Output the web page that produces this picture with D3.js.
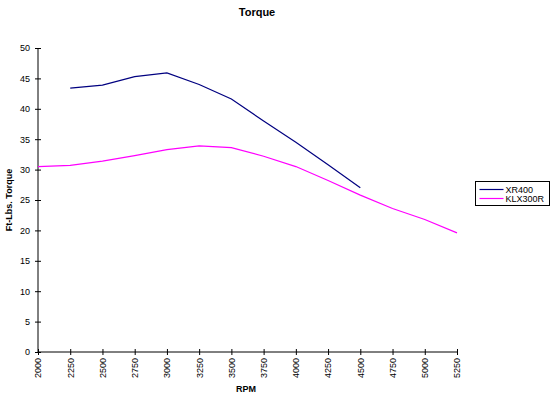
<!DOCTYPE html>
<html>
<head>
<meta charset="utf-8">
<script src="https://cdn.jsdelivr.net/npm/d3@7"></script>
<style>
  body { margin: 0; background: #fff; }
  text { font-family: Arial, "Liberation Sans", sans-serif; }
</style>
</head>
<body>
<div id="chart"></div>
<script>
// RPM categories and torque readings
const rpm = [2000, 2250, 2500, 2750, 3000, 3250, 3500, 3750, 4000, 4250, 4500, 4750, 5000, 5250];
const xr400 = [null, 43.4, 43.9, 45.3, 45.9, 44.0, 41.6, 38.0, 34.5, 30.8, 27.0, null, null, null];
const klx300r = [30.5, 30.7, 31.4, 32.3, 33.3, 33.9, 33.6, 32.2, 30.5, 28.2, 25.8, 23.6, 21.8, 19.6];
const yTicks = [0, 5, 10, 15, 20, 25, 30, 35, 40, 45, 50];

const series = [
  {name: "XR400", values: xr400, color: "#000080"},
  {name: "KLX300R", values: klx300r, color: "#ff00ff"}
];

const W = 551, H = 398;
const svg = d3.select("#chart").append("svg")
  .attr("width", W)
  .attr("height", H);

const x = d3.scaleLinear().domain([2000, 5250]).range([38, 457]);
const y = d3.scaleLinear().domain([0, 50]).range([352, 48]);

// title
svg.append("text")
  .attr("x", 257).attr("y", 16)
  .attr("text-anchor", "middle")
  .style("font-size", "11px").style("font-weight", "bold")
  .text("Torque");

// axes with crossing tick marks
const yAxis = svg.append("g")
  .attr("transform", `translate(${x.range()[0]},0)`)
  .call(d3.axisLeft(y).tickValues(yTicks).tickSize(3).tickPadding(5));
yAxis.selectAll(".tick line").attr("x2", 3).attr("x1", -3);

const xAxis = svg.append("g")
  .attr("transform", `translate(0,${y.range()[0]})`)
  .call(d3.axisBottom(x).tickValues(rpm).tickSize(3).tickFormat(d3.format("d")));
xAxis.selectAll(".tick line").attr("y1", -3).attr("y2", 3);
xAxis.selectAll(".tick text")
  .attr("transform", "rotate(-90)")
  .attr("text-anchor", "end")
  .attr("x", -6).attr("y", 0).attr("dy", "0.32em");

[yAxis, xAxis].forEach(g => {
  g.select(".domain").attr("stroke", "#000").attr("d", null);
  g.selectAll("text").style("font-size", "9px").attr("fill", "#000");
  g.selectAll(".tick line").attr("stroke", "#000");
});
yAxis.select(".domain").attr("d", `M0,${y.range()[0]}V${y.range()[1]}`).attr("transform", null);
xAxis.select(".domain").attr("d", `M${x.range()[0]},0H${x.range()[1]}`);

// axis titles
svg.append("text")
  .attr("x", 246).attr("y", 392)
  .attr("text-anchor", "middle")
  .style("font-size", "9px").style("font-weight", "bold")
  .text("RPM");

svg.append("text")
  .attr("transform", "translate(12,200) rotate(-90)")
  .attr("text-anchor", "middle")
  .style("font-size", "9px").style("font-weight", "bold")
  .text("Ft-Lbs. Torque");

// lines
const line = d3.line()
  .defined(d => d.v != null)
  .x(d => x(d.r))
  .y(d => y(d.v));

series.forEach(s => {
  svg.append("path")
    .datum(rpm.map((r, i) => ({r: r, v: s.values[i]})))
    .attr("fill", "none")
    .attr("stroke", s.color)
    .attr("stroke-width", 1.2)
    .attr("d", line);
});

// legend
const legend = svg.append("g").attr("transform", "translate(475.5,181.5)");
legend.append("rect")
  .attr("width", 74).attr("height", 24)
  .attr("fill", "#fff").attr("stroke", "#000");
series.forEach((s, i) => {
  const ly = 8 + i * 9;
  legend.append("line")
    .attr("x1", 4).attr("x2", 28)
    .attr("y1", ly).attr("y2", ly)
    .attr("stroke", s.color).attr("stroke-width", 1.2);
  legend.append("text")
    .attr("x", 30).attr("y", ly).attr("dy", "0.35em")
    .style("font-size", "9px")
    .text(s.name);
});
</script>
</body>
</html>
